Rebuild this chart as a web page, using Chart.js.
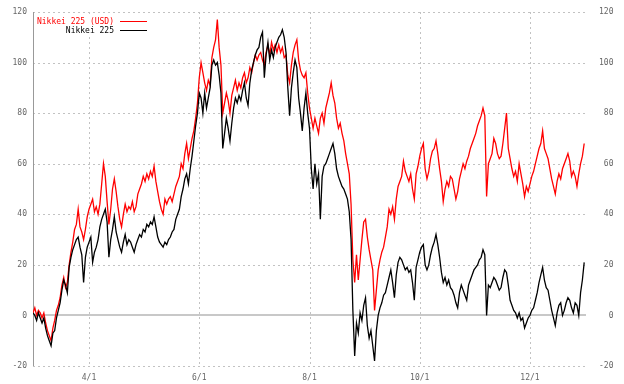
<!DOCTYPE html>
<html><head><meta charset="utf-8">
<script src="https://cdn.jsdelivr.net/npm/chart.js@4.4.1/dist/chart.umd.min.js"></script>
<style>html,body{margin:0;padding:0;background:#fff;}#wrap{width:624px;height:384px;}</style>
</head><body><div id="wrap"><canvas id="c" width="624" height="384"></canvas></div>
<script>
// x = calendar day counted from 3/1 (day 0)
const tickDays = [31, 92, 153, 214, 275];
const tickLabels = ['4/1', '6/1', '8/1', '10/1', '12/1'];
const yTicks = [-20, 0, 20, 40, 60, 80, 100, 120];
const seriesNames = ['Nikkei 225 (USD)', 'Nikkei 225'];

// % change, Nikkei 225 in USD (red)
const nikkeiUsd = [
 1,3,0,2,1, -1,1,-3,-6,-8, -10,-5,-2,2,4, 7,12,15,11,13,
 20,25,29,34,36, 42,35,33,30,34, 39,42,44,46,41, 43,40,44,52,60,
 55,45,36,42,50, 54,49,43,38,35, 40,44,41,43,42, 45,41,43,48,50,
 52,55,53,56,54, 57,55,59,53,49, 45,42,40,46,44, 46,47,45,48,51,
 53,55,60,58,64, 68,62,66,70,73, 78,84,94,100,96, 92,89,93,91,102,
 106,109,117,106,99, 80,84,88,85,80, 87,90,93,89,92, 90,94,96,92,94,
 98,96,100,103,101, 103,104,101,99,104, 107,103,108,105,107, 104,107,104,106,102,
 103,95,92,99,104, 107,109,101,97,95, 94,96,88,82,78, 74,78,75,72,78,
 80,76,82,85,88, 92,87,84,78,74, 76,72,69,64,60, 56,44,22,13,24,
 14,22,30,37,38, 31,26,22,18,2, 10,18,22,25,27, 31,35,42,40,43,
 38,46,51,53,55, 61,57,55,53,56, 50,46,56,59,63, 66,68,58,54,57,
 62,65,66,69,64, 58,53,45,50,53, 51,55,54,50,46, 49,54,57,60,58,
 61,63,66,68,70, 72,75,77,79,82, 79,47,60,62,64, 70,68,64,62,63,
 68,74,80,66,62, 58,55,57,53,60, 56,52,47,51,49, 52,55,57,60,63,
 66,68,73,66,64, 62,58,54,51,48, 53,56,54,58,60, 62,64,61,55,57,
 55,51,56,60,63,68
];

// % change, Nikkei 225 in yen (black)
const nikkei = [
 1,0,-2,1,-1, -3,-1,-5,-8,-10, -12,-7,-6,-1,2, 5,10,14,12,9,
 19,23,26,28,30, 31,27,24,13,23, 27,29,31,21,25, 27,30,35,38,40,
 42,37,23,30,34, 39,33,30,27,25, 29,32,28,30,29, 27,25,28,30,32,
 31,34,33,36,35, 37,36,39,35,31, 29,28,27,29,28, 30,31,33,34,38,
 40,42,47,50,54, 56,52,58,63,69, 75,80,88,86,80, 88,82,86,90,99,
 101,99,100,95,88, 66,72,78,74,69, 76,82,86,84,87, 85,89,92,86,83,
 92,97,100,103,105, 106,110,112,94,103, 108,101,105,102,106, 108,110,111,113,110,
 104,90,79,90,96, 101,98,86,80,73, 82,88,80,74,58, 50,60,52,56,38,
 55,59,60,62,64, 66,68,64,58,55, 53,51,50,48,46, 41,30,2,-16,-3,
 -7,1,-2,4,7, -4,-9,-6,-12,-18, -6,0,3,5,8, 9,12,15,18,13,
 7,16,21,23,22, 20,18,19,17,18, 13,6,19,22,25, 27,28,20,18,20,
 24,27,29,32,28, 23,17,13,15,12, 14,11,10,8,5, 3,9,12,10,8,
 6,12,14,16,18, 19,20,22,23,26, 24,0,12,11,13, 15,14,12,10,11,
 15,18,17,12,6, 4,2,1,-1,1, -2,-1,-5,-3,-1, 0,2,3,6,9,
 13,16,19,14,11, 10,6,2,-1,-4, 1,4,5,0,2, 5,7,6,3,1,
 5,4,0,9,14,21
];

const FONT = {family: "'DejaVu Sans Mono', 'Liberation Mono', monospace", size: 8};
const toPoints = arr => arr.map((v, i) => ({x: i, y: v}));

const decor = {
  id: 'decor',
  beforeDatasetsDraw(chart) {
    const {ctx, chartArea: a, scales: {x, y}} = chart;
    ctx.save();
    ctx.lineWidth = 1;
    ctx.strokeStyle = '#c2c2c2';
    ctx.setLineDash([2, 3]);
    yTicks.forEach(v => {
      if (v === 0) return;
      const py = Math.round(y.getPixelForValue(v)) + 0.5;
      ctx.beginPath(); ctx.moveTo(a.left, py); ctx.lineTo(a.right, py); ctx.stroke();
    });
    tickDays.forEach(d => {
      const px = Math.round(x.getPixelForValue(d)) + 0.5;
      ctx.beginPath(); ctx.moveTo(px, a.top); ctx.lineTo(px, a.bottom); ctx.stroke();
    });
    ctx.setLineDash([]);
    ctx.strokeStyle = '#c8c8c8';
    ctx.lineWidth = 2;
    const z = Math.round(y.getPixelForValue(0));
    ctx.beginPath(); ctx.moveTo(a.left, z); ctx.lineTo(a.right, z); ctx.stroke();
    ctx.strokeStyle = '#999';
    ctx.lineWidth = 1;
    ctx.beginPath(); ctx.moveTo(a.left + 0.5, a.top); ctx.lineTo(a.left + 0.5, a.bottom); ctx.stroke();
    ctx.restore();
  },
  afterDatasetsDraw(chart) {
    const {ctx, chartArea: a} = chart;
    ctx.save();
    ctx.fillStyle = '#fff';
    ctx.fillRect(a.left + 3, a.top + 3, 116, 22);
    ctx.font = "8px 'DejaVu Sans Mono', 'Liberation Mono', monospace";
    ctx.textAlign = 'right';
    ctx.textBaseline = 'middle';
    const rows = [[seriesNames[0], '#ff0000', 21.5], [seriesNames[1], '#000000', 30.5]];
    rows.forEach(([t, c, yy]) => {
      ctx.fillStyle = c;
      ctx.fillText(t, a.left + 81, yy);
      ctx.strokeStyle = c; ctx.lineWidth = 1;
      ctx.beginPath(); ctx.moveTo(a.left + 87, Math.floor(yy) + 0.5); ctx.lineTo(a.left + 114, Math.floor(yy) + 0.5); ctx.stroke();
    });
    ctx.restore();
  }
};

const yAxisBase = {
  type: 'linear', min: -20, max: 120,
  afterBuildTicks: s => { s.ticks = yTicks.map(v => ({value: v})); },
  grid: {display: false, drawTicks: false},
  border: {display: false},
  ticks: {font: FONT, color: '#666', padding: 6}
};

new Chart(document.getElementById('c'), {
  type: 'line',
  data: {
    datasets: [
      {label: seriesNames[1], data: toPoints(nikkei), borderColor: '#000', borderWidth: 1.3, pointRadius: 0, tension: 0, order: 0, yAxisID: 'y'},
      {label: seriesNames[0], data: toPoints(nikkeiUsd), borderColor: '#ff0000', borderWidth: 1.3, pointRadius: 0, tension: 0, order: 1, yAxisID: 'y'}
    ]
  },
  options: {
    responsive: false, animation: false, devicePixelRatio: 1,
    layout: {padding: {top: 12, right: 10.5, left: 0, bottom: 0}},
    plugins: {legend: {display: false}, tooltip: {enabled: false}},
    scales: {
      x: {
        type: 'linear', min: 0, max: 306,
        afterBuildTicks: s => { s.ticks = tickDays.map(v => ({value: v})); },
        afterFit: s => { s.height = 18; },
        grid: {display: false, drawTicks: false},
        border: {display: false},
        ticks: {font: FONT, color: '#666', padding: 7, maxRotation: 0, autoSkip: false,
          callback: v => tickLabels[tickDays.indexOf(v)]}
      },
      y: Object.assign({}, yAxisBase, {position: 'left', afterFit: s => { s.width = 33; }}),
      y2: Object.assign({}, yAxisBase, {position: 'right', afterFit: s => { s.width = 27.5; },
        ticks: {font: FONT, color: '#666', padding: 6, crossAlign: 'far'}})
    }
  },
  plugins: [decor]
});
</script></body></html>
